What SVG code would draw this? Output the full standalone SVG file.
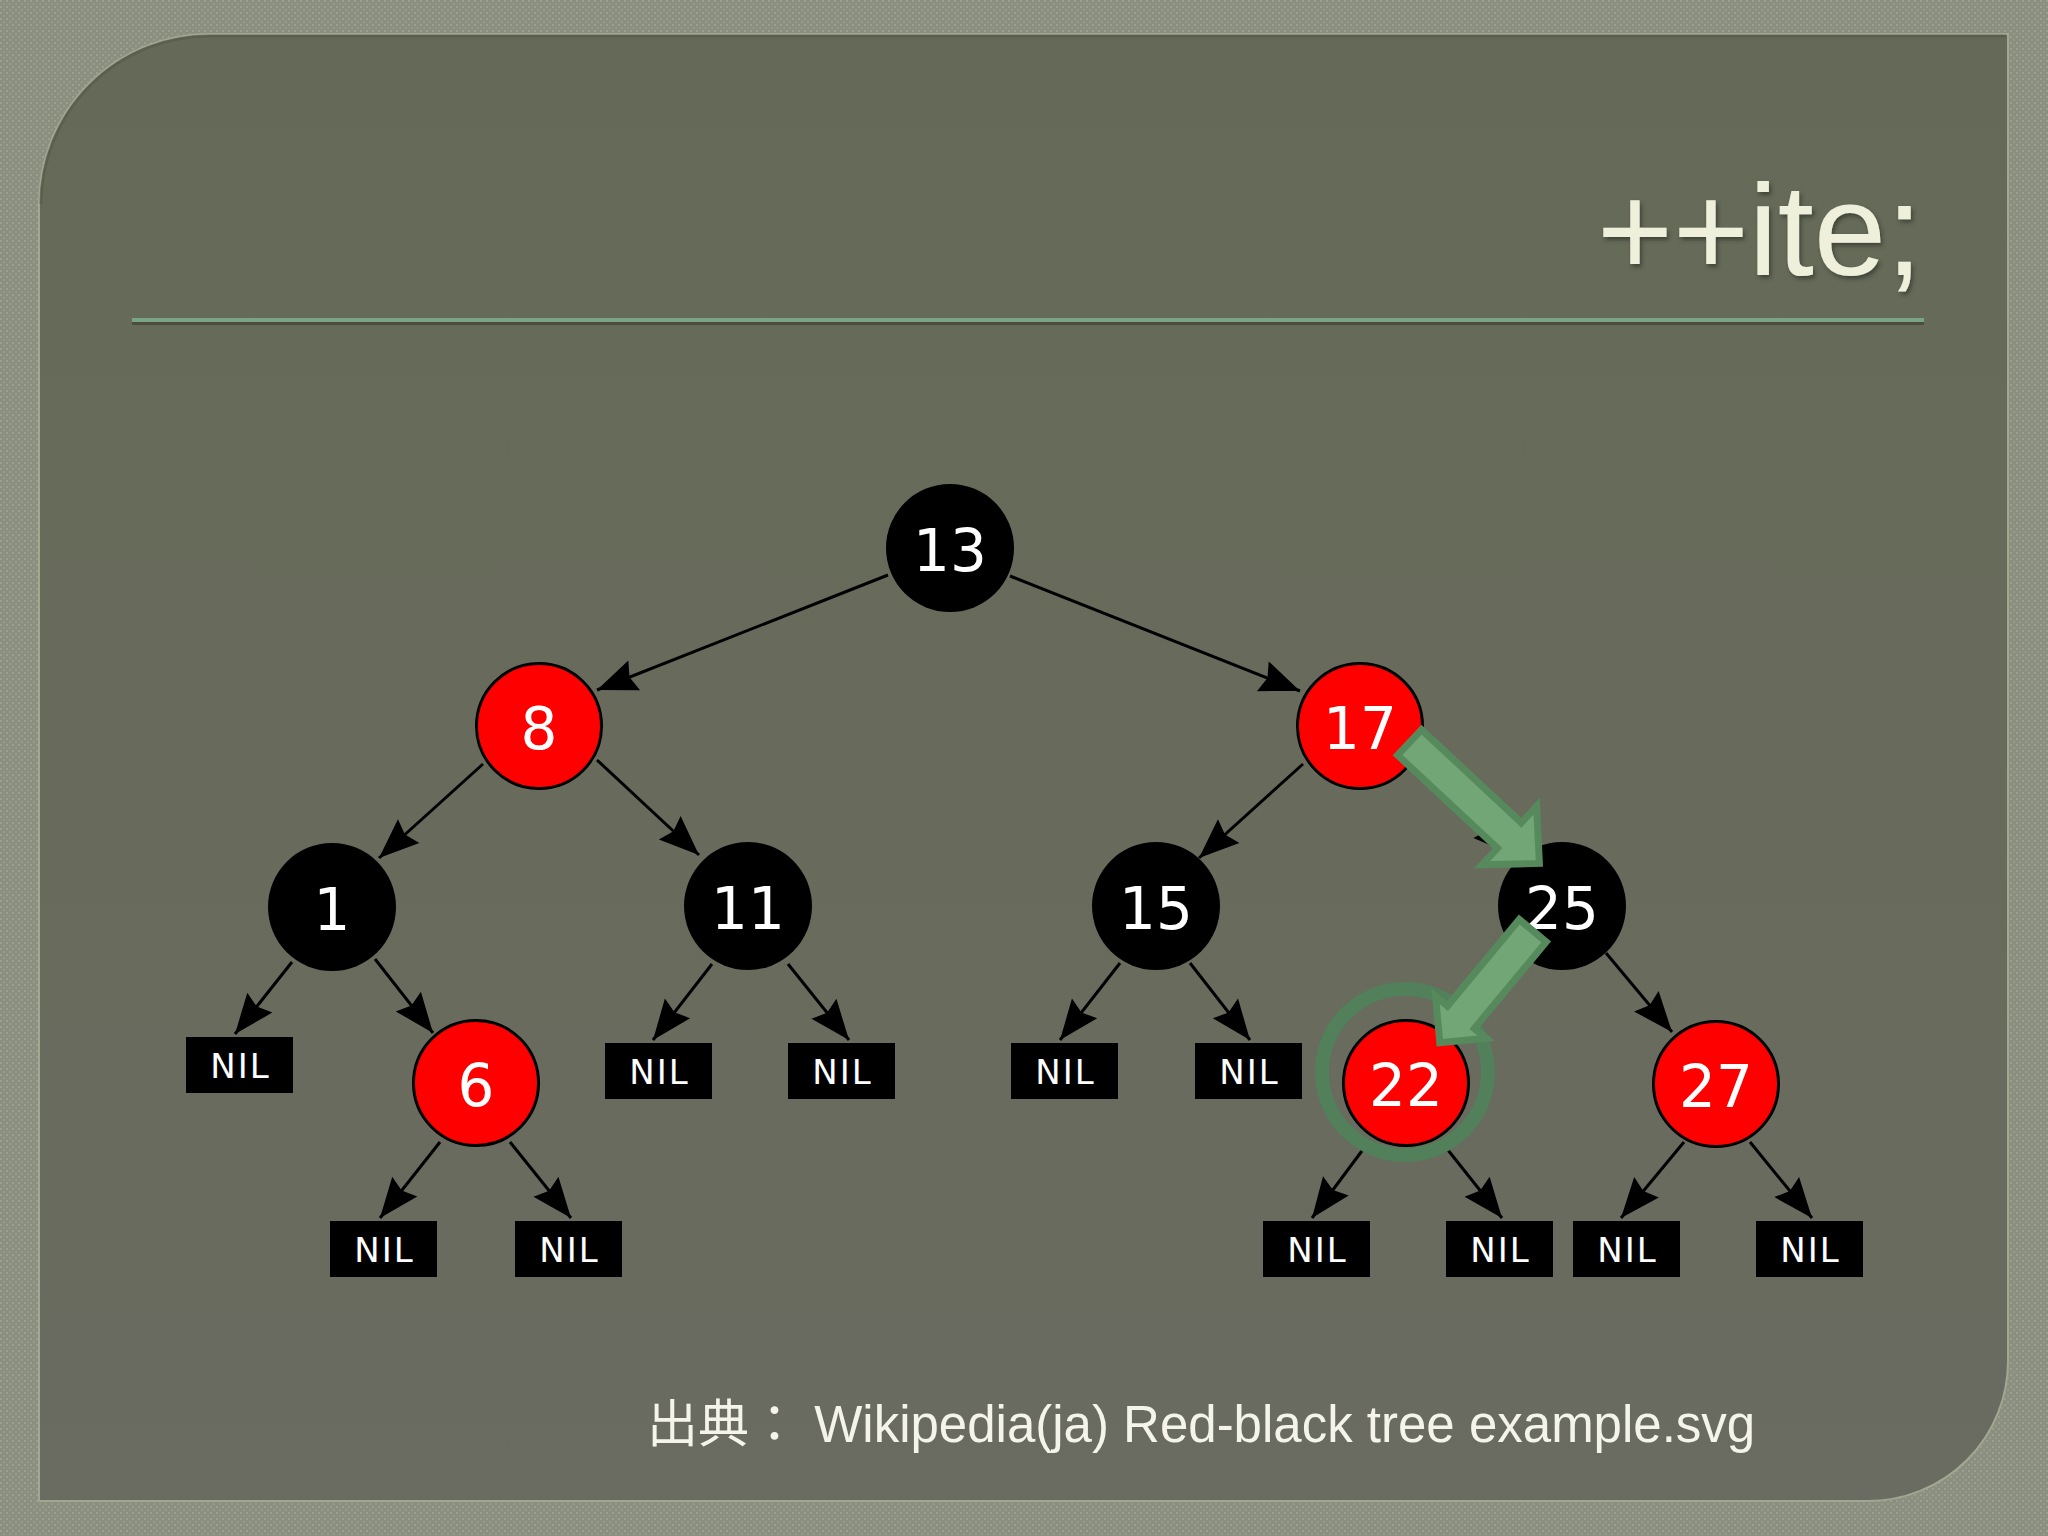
<svg xmlns="http://www.w3.org/2000/svg" width="2048" height="1536" viewBox="0 0 2048 1536">
<defs>
<pattern id="tex" width="6" height="6" patternUnits="userSpaceOnUse">
<rect width="6" height="6" fill="#8b8f7f"/>
<rect x="0" y="0" width="2" height="2" fill="#9b9f8e"/>
<rect x="3" y="3" width="2" height="2" fill="#969a89"/>
</pattern>
<linearGradient id="panelG" x1="0" y1="0" x2="0" y2="1">
<stop offset="0" stop-color="#656a58"/>
<stop offset="0.5" stop-color="#686b5b"/>
<stop offset="1" stop-color="#6a6b61"/>
</linearGradient>
<filter id="shadow" x="-10%" y="-10%" width="120%" height="130%">
<feDropShadow dx="2" dy="3" stdDeviation="2" flood-color="#2e3026" flood-opacity="0.7"/>
</filter>
<marker id="ah" markerUnits="userSpaceOnUse" markerWidth="46" markerHeight="38" viewBox="-43 -19 46 38" refX="0" refY="0" orient="auto">
<path d="M0,0 L-40,-16 L-35,0 L-40,16 Z" fill="#000"/>
</marker>
<style>
.edge{stroke:#000;stroke-width:3;fill:none;marker-end:url(#ah)}
.blk{fill:#000}
.red{fill:#ff0000;stroke:#000;stroke-width:3}
.lbl{font-family:"DejaVu Sans",sans-serif;font-size:58px;fill:#fff;text-anchor:middle}
.nil{fill:#000}
.niltxt{font-family:"DejaVu Sans",sans-serif;font-size:34px;fill:#fff;text-anchor:middle;letter-spacing:2px}
.garrow{fill:#73a676;stroke:#568a5c;stroke-width:7;stroke-linejoin:miter}
</style>
</defs>

<rect width="2048" height="1536" fill="url(#tex)"/>
<path d="M209,34 H2008 V1361 A140,140 0 0 1 1868,1501 H39 V204 A170,170 0 0 1 209,34 Z" fill="url(#panelG)" stroke="#a2a792" stroke-width="2"/>
<path d="M41,204 A168,168 0 0 1 209,36 H2006" fill="none" stroke="#55594a" stroke-width="3" opacity="0.6"/>

<rect x="132" y="318" width="1792" height="4" fill="#79a585"/>
<rect x="132" y="322" width="1792" height="3" fill="#4e4c3e"/>

<text x="1597" y="275" font-family="Liberation Sans, Arial, sans-serif" font-size="130" fill="#eef0dc" filter="url(#shadow)">++ite;</text>

<g id="connectors">
<line class="edge" x1="888" y1="575" x2="597" y2="690"/>
<line class="edge" x1="1010" y1="576" x2="1300" y2="691"/>
<line class="edge" x1="483" y1="764" x2="379" y2="858"/>
<line class="edge" x1="597" y1="760" x2="699" y2="855"/>
<line class="edge" x1="1303" y1="764" x2="1199" y2="858"/>
<line class="edge" x1="1418" y1="760" x2="1513" y2="855"/>
<line class="edge" x1="1505" y1="944" x2="1449" y2="1035"/>
<line class="edge" x1="1606" y1="953" x2="1672" y2="1032"/>
<line class="edge" x1="292" y1="962" x2="235" y2="1034"/>
<line class="edge" x1="375" y1="959" x2="433" y2="1033"/>
<line class="edge" x1="440" y1="1142" x2="380" y2="1218"/>
<line class="edge" x1="510" y1="1142" x2="571" y2="1218"/>
<line class="edge" x1="712" y1="964" x2="653" y2="1040"/>
<line class="edge" x1="788" y1="964" x2="849" y2="1040"/>
<line class="edge" x1="1120" y1="963" x2="1060" y2="1040"/>
<line class="edge" x1="1190" y1="963" x2="1250" y2="1040"/>
<line class="edge" x1="1370" y1="1140" x2="1312" y2="1218"/>
<line class="edge" x1="1440" y1="1140" x2="1502" y2="1218"/>
<line class="edge" x1="1684" y1="1142" x2="1621" y2="1218"/>
<line class="edge" x1="1750" y1="1142" x2="1812" y2="1218"/>
</g>

<g id="n13"><circle class="blk" cx="950" cy="548" r="64"/><text class="lbl" x="950" y="571">13</text></g>
<g id="n8"><circle class="red" cx="539" cy="726" r="62.5"/><text class="lbl" x="539" y="749">8</text></g>
<g id="n17"><circle class="red" cx="1360" cy="726" r="62.5"/><text class="lbl" x="1360" y="749">17</text></g>
<g id="n1"><circle class="blk" cx="332" cy="907" r="64"/><text class="lbl" x="332" y="930">1</text></g>
<g id="n11"><circle class="blk" cx="748" cy="906" r="64"/><text class="lbl" x="748" y="929">11</text></g>
<g id="n15"><circle class="blk" cx="1156" cy="906" r="64"/><text class="lbl" x="1156" y="929">15</text></g>
<g id="n25"><circle class="blk" cx="1562" cy="906" r="64"/><text class="lbl" x="1562" y="929">25</text></g>
<g id="n6"><circle class="red" cx="476" cy="1083" r="62.5"/><text class="lbl" x="476" y="1106">6</text></g>
<g id="n22"><circle class="red" cx="1406" cy="1083" r="62.5"/><text class="lbl" x="1406" y="1106">22</text></g>
<g id="n27"><circle class="red" cx="1716" cy="1084" r="62.5"/><text class="lbl" x="1716" y="1107">27</text></g>

<g id="nilA"><rect class="nil" x="186" y="1037" width="107" height="56"/><text class="niltxt" x="240.5" y="1078">NIL</text></g>
<g id="nilB"><rect class="nil" x="330" y="1221" width="107" height="56"/><text class="niltxt" x="384.5" y="1262">NIL</text></g>
<g id="nilC"><rect class="nil" x="515" y="1221" width="107" height="56"/><text class="niltxt" x="569.5" y="1262">NIL</text></g>
<g id="nilD"><rect class="nil" x="605" y="1043" width="107" height="56"/><text class="niltxt" x="659.5" y="1084">NIL</text></g>
<g id="nilE"><rect class="nil" x="788" y="1043" width="107" height="56"/><text class="niltxt" x="842.5" y="1084">NIL</text></g>
<g id="nilF"><rect class="nil" x="1011" y="1043" width="107" height="56"/><text class="niltxt" x="1065.5" y="1084">NIL</text></g>
<g id="nilG"><rect class="nil" x="1195" y="1043" width="107" height="56"/><text class="niltxt" x="1249.5" y="1084">NIL</text></g>
<g id="nilH"><rect class="nil" x="1263" y="1221" width="107" height="56"/><text class="niltxt" x="1317.5" y="1262">NIL</text></g>
<g id="nilI"><rect class="nil" x="1446" y="1221" width="107" height="56"/><text class="niltxt" x="1500.5" y="1262">NIL</text></g>
<g id="nilJ"><rect class="nil" x="1573" y="1221" width="107" height="56"/><text class="niltxt" x="1627.5" y="1262">NIL</text></g>
<g id="nilK"><rect class="nil" x="1756" y="1221" width="107" height="56"/><text class="niltxt" x="1810.5" y="1262">NIL</text></g>

<g id="highlight">
<circle cx="1405" cy="1072" r="83" fill="none" stroke="#52805a" stroke-width="14"/>
<polygon class="garrow" transform="translate(1407,740) rotate(43)" points="3.5,-17.5 140,-17.5 140,-40 181,0 140,40 140,17.5 3.5,17.5"/>
<polygon class="garrow" transform="translate(1535,928) rotate(129.7)" points="3.5,-17.5 116,-17.5 116,-33 149,0 116,33 116,17.5 3.5,17.5"/>
</g>

<text x="647" y="1442" font-family="Liberation Sans, 'Noto Sans CJK JP', sans-serif" font-size="51" fill="#f4f4ea">出典： Wikipedia(ja) Red-black tree example.svg</text>
</svg>
